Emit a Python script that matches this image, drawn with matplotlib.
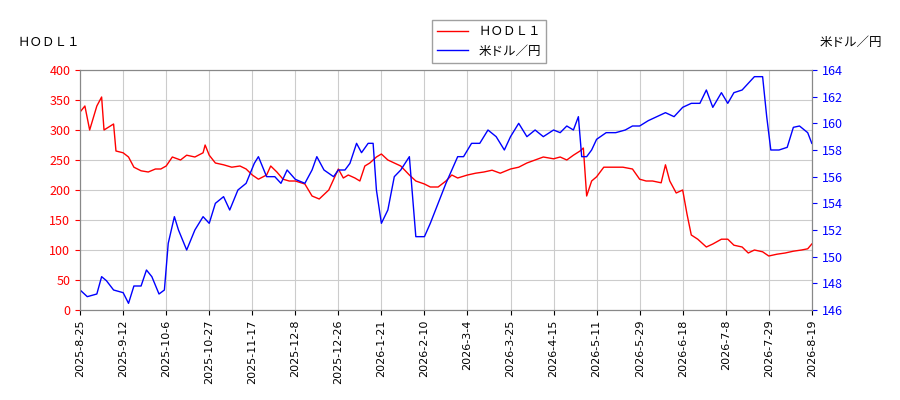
import matplotlib
matplotlib.use("Agg")
import matplotlib.pyplot as plt
import numpy as np
import pandas as pd

plt.rcParams["font.family"] = ["Noto Sans CJK JP", "DejaVu Sans"]

# HODL1
hodl_dates = ["2025-08-25","2025-08-27","2025-08-29","2025-09-01","2025-09-03","2025-09-04","2025-09-08","2025-09-09",
 "2025-09-12","2025-09-15","2025-09-18","2025-09-22","2025-09-26","2025-09-30","2025-10-03","2025-10-06","2025-10-09",
 "2025-10-13","2025-10-16","2025-10-20","2025-10-24","2025-10-25","2025-10-27","2025-10-30","2025-11-03","2025-11-07",
 "2025-11-11","2025-11-14","2025-11-17","2025-11-20","2025-11-24","2025-11-26","2025-11-29","2025-12-02","2025-12-05",
 "2025-12-08","2025-12-12","2025-12-15","2025-12-18","2025-12-22","2025-12-26","2025-12-29","2026-01-01","2026-01-05",
 "2026-01-08","2026-01-11","2026-01-14","2026-01-18","2026-01-21","2026-01-24","2026-01-27","2026-01-30","2026-02-03",
 "2026-02-06","2026-02-10","2026-02-13","2026-02-17","2026-02-21","2026-02-24","2026-02-27","2026-03-04","2026-03-08",
 "2026-03-12","2026-03-16","2026-03-20","2026-03-25","2026-03-29","2026-04-02","2026-04-06","2026-04-10","2026-04-15",
 "2026-04-19","2026-04-23","2026-04-27","2026-05-01","2026-05-03","2026-05-05","2026-05-08","2026-05-11","2026-05-14",
 "2026-05-18","2026-05-22","2026-05-26","2026-05-29","2026-06-01","2026-06-04","2026-06-08","2026-06-10","2026-06-12",
 "2026-06-15","2026-06-18","2026-06-20","2026-06-22","2026-06-25","2026-06-29","2026-07-02","2026-07-06","2026-07-09",
 "2026-07-12","2026-07-16","2026-07-19","2026-07-22","2026-07-26","2026-07-29","2026-08-02","2026-08-06","2026-08-10",
 "2026-08-14","2026-08-17","2026-08-19"]
hodl_vals = [330,340,300,340,355,300,310,265,262,255,238,232,230,235,235,240,255,250,258,255,262,275,258,245,242,238,
 240,235,225,218,225,240,230,218,215,215,210,190,185,200,235,220,225,220,215,240,245,255,260,250,245,240,225,215,210,
 205,205,215,225,220,225,228,230,233,228,235,238,245,250,255,252,255,250,258,265,270,190,215,222,238,238,238,235,218,
 215,215,212,242,215,195,200,160,125,118,105,110,118,118,108,105,95,100,97,90,93,95,98,100,102,110]

# USD/JPY
usd_dates = ["2025-08-25","2025-08-28","2025-09-01","2025-09-03","2025-09-05","2025-09-08","2025-09-12","2025-09-15",
 "2025-09-18","2025-09-22","2025-09-25","2025-09-28","2025-10-02","2025-10-05","2025-10-07","2025-10-10","2025-10-12",
 "2025-10-16","2025-10-20","2025-10-24","2025-10-27","2025-10-30","2025-11-03","2025-11-06","2025-11-10","2025-11-14",
 "2025-11-18","2025-11-20","2025-11-24","2025-11-28","2025-12-01","2025-12-04","2025-12-08","2025-12-12","2025-12-15",
 "2025-12-17","2025-12-20","2025-12-24","2025-12-26","2025-12-30","2026-01-02","2026-01-06","2026-01-09","2026-01-13",
 "2026-01-16","2026-01-18","2026-01-21","2026-01-24","2026-01-27","2026-01-30","2026-02-03","2026-02-06","2026-02-10",
 "2026-02-13","2026-02-17","2026-02-21","2026-02-24","2026-02-27","2026-03-02","2026-03-06","2026-03-10","2026-03-14",
 "2026-03-18","2026-03-22","2026-03-25","2026-03-29","2026-04-02","2026-04-06","2026-04-10","2026-04-15","2026-04-19",
 "2026-04-23","2026-04-27","2026-04-30","2026-05-02","2026-05-05","2026-05-08","2026-05-11","2026-05-15","2026-05-19",
 "2026-05-23","2026-05-26","2026-05-29","2026-06-02","2026-06-06","2026-06-10","2026-06-14","2026-06-18","2026-06-22",
 "2026-06-26","2026-06-29","2026-07-02","2026-07-06","2026-07-09","2026-07-12","2026-07-16","2026-07-19","2026-07-22",
 "2026-07-26","2026-07-28","2026-07-30","2026-08-03","2026-08-07","2026-08-10","2026-08-13","2026-08-17","2026-08-19"]
usd_vals = [147.5,147.0,147.2,148.5,148.2,147.5,147.3,146.5,147.8,147.8,149.0,148.5,147.2,147.5,151.0,153.0,152.0,150.5,
 152.0,153.0,152.5,154.0,154.5,153.5,155.0,155.5,157.0,157.5,156.0,156.0,155.5,156.5,155.8,155.5,156.5,157.5,156.5,
 156.0,156.5,156.5,157.0,158.5,157.8,158.5,158.5,155.0,152.5,153.5,156.0,156.5,157.5,151.5,151.5,152.5,154.0,155.5,
 156.5,157.5,157.5,158.5,158.5,159.5,159.0,158.0,159.0,160.0,159.0,159.5,159.0,159.5,159.3,159.8,159.5,160.5,157.5,
 157.5,158.0,158.8,159.3,159.3,159.5,159.8,159.8,160.2,160.5,160.8,160.5,161.2,161.5,161.5,162.5,161.2,162.3,161.5,
 162.3,162.5,163.0,163.5,163.5,160.5,158.0,158.0,158.2,159.7,159.8,159.3,158.5]

tick_labels = ["2025-8-25","2025-9-12","2025-10-6","2025-10-27","2025-11-17","2025-12-8","2025-12-26","2026-1-21",
 "2026-2-10","2026-3-4","2026-3-25","2026-4-15","2026-5-11","2026-5-29","2026-6-18","2026-7-8","2026-7-29","2026-8-19"]

# the x axis is evenly spaced per tick (trading-day style), so map dates onto tick index
tick_num = pd.to_datetime(tick_labels).values.astype("int64")


def to_pos(dates):
    d = pd.to_datetime(dates).values.astype("int64")
    return np.interp(d, tick_num, np.arange(len(tick_labels)))


fig = plt.figure(figsize=(9, 4), dpi=100)
ax = fig.add_axes([0.089, 0.225, 0.813, 0.6])
ax2 = ax.twinx()

l1, = ax.plot(to_pos(hodl_dates), hodl_vals, color="red", lw=1, label="ＨＯＤＬ１")
l2, = ax2.plot(to_pos(usd_dates), usd_vals, color="blue", lw=1, label="米ドル／円")

ax.set_xticks(np.arange(len(tick_labels)))
ax.set_xticklabels(tick_labels, rotation=90, fontsize=8, family="DejaVu Sans")
ax.set_xlim(0, len(tick_labels) - 1)
ax.set_ylim(0, 400)
ax.set_yticks(range(0, 401, 50))
ax2.set_ylim(146, 164)
ax2.set_yticks(range(146, 165, 2))
ax.tick_params(axis="y", colors="red", labelsize=9)
ax2.tick_params(axis="y", colors="blue", labelsize=9)
for a in (ax, ax2):
    for s in a.spines.values():
        s.set_color("#888888")
ax.grid(True, color="#cccccc", lw=0.8)

fig.text(0.02, 0.885, "ＨＯＤＬ１", fontsize=9)
fig.text(0.98, 0.885, "米ドル／円", fontsize=9, ha="right")
fig.legend(handles=[l1, l2], loc="upper center", bbox_to_anchor=(0.543, 0.965), fontsize=9,
           frameon=True, fancybox=False, edgecolor="#888888", handlelength=2.5)

fig.savefig("out.png", dpi=100)
